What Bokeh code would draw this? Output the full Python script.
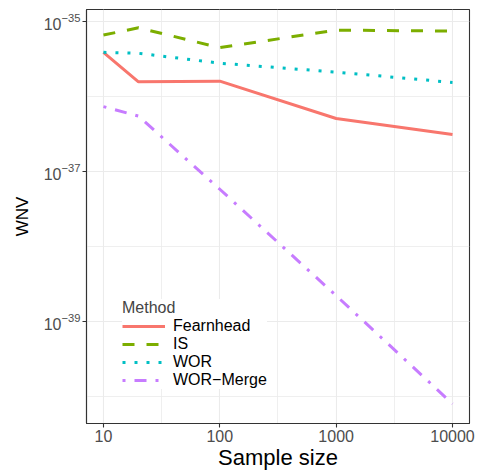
from bokeh.plotting import figure
from bokeh.models import (Range1d, FixedTicker, BasicTickFormatter, LogTickFormatter,
                          Legend, LegendItem)
from bokeh.embed import file_html
from bokeh.resources import INLINE

# ---- data ----
sample_size = [10, 20, 100, 1000, 10000]
methods = ["Fearnhead", "IS", "WOR", "WOR\u2212Merge"]
wnv_fearnhead = [3.85e-36, 1.56e-36, 1.59e-36, 5.06e-37, 3.1e-37]
wnv_is = [6.53e-36, 8.15e-36, 4.44e-36, 7.6e-36, 7.38e-36]
wnv_wor = [3.85e-36, 3.74e-36, 2.76e-36, 2.1e-36, 1.53e-36]
wnv_wor_merge = [7.3e-37, 5.45e-37, 5.8e-38, 2.23e-39, 8.1e-41]

x_ticks = [10, 100, 1000, 10000]
x_minor = [31.62, 316.2, 3162.3]
y_ticks = [1e-35, 1e-37, 1e-39]
y_minor = [1e-36, 1e-38, 1e-40]

colors = ["#F8766D", "#7CAE00", "#00BFC4", "#C77CFF"]
dashes = ["solid", "12 12", "3 9", "3 9 12 9"]
series = [wnv_fearnhead, wnv_is, wnv_wor, wnv_wor_merge]

FONT = "Liberation Sans"

p = figure(width=482, height=472, x_axis_type="log", y_axis_type="log",
           x_range=Range1d(7.15, 13996), y_range=Range1d(10**-40.353, 10**-34.845),
           output_backend="svg", toolbar_location=None,
           min_border_left=86, min_border_right=13, min_border_top=9, min_border_bottom=46)

p.background_fill_color = "white"
p.border_fill_color = "white"
p.outline_line_color = "#333333"
p.outline_line_width = 1.1

renderers = []
for vals, c, d in zip(series, colors, dashes):
    r = p.line(sample_size, vals, line_color=c, line_width=3, line_dash=d, line_cap="butt")
    renderers.append(r)

# axes
p.xaxis.ticker = FixedTicker(ticks=x_ticks, minor_ticks=x_minor)
p.yaxis.ticker = FixedTicker(ticks=y_ticks, minor_ticks=y_minor)
p.xaxis.formatter = BasicTickFormatter()
p.yaxis.formatter = LogTickFormatter()

for ax in (p.xaxis, p.yaxis):
    ax.axis_line_color = "#333333"
    ax.axis_line_width = 1.1
    ax.major_tick_line_color = "#333333"
    ax.major_tick_line_width = 1.1
    ax.major_tick_out = 4
    ax.major_tick_in = 0
    ax.minor_tick_line_color = None
    ax.major_label_text_font = FONT
    ax.major_label_text_font_size = "16px"
    ax.major_label_text_color = "#4D4D4D"
    ax.axis_label_text_font = FONT
    ax.axis_label_text_font_style = "normal"
    ax.axis_label_text_color = "black"

p.xaxis.axis_label = "Sample size"
p.xaxis.axis_label_text_font_size = "22px"
p.xaxis.major_label_standoff = 2
p.xaxis.axis_label_standoff = 0

p.yaxis.axis_label = "WNV"
p.yaxis.axis_label_text_font_size = "17px"
p.yaxis.major_label_standoff = 2
p.yaxis.axis_label_standoff = 9

for g in (p.xgrid, p.ygrid):
    g.grid_line_color = "#EBEBEB"
    g.grid_line_width = 1.1
    g.minor_grid_line_color = "#EBEBEB"
    g.minor_grid_line_width = 0.8

legend = Legend(items=[LegendItem(label=m, renderers=[r]) for m, r in zip(methods, renderers)],
                location=(36, 34), title="Method",
                title_text_font=FONT, title_text_font_size="16px", title_text_font_style="normal",
                title_standoff=0,
                label_text_font=FONT, label_text_font_size="16px", label_text_color="black",
                glyph_width=43, glyph_height=16, label_height=16, label_standoff=8,
                spacing=0, padding=5, margin=0,
                background_fill_color="white", background_fill_alpha=1.0,
                border_line_color=None)
p.add_layout(legend, "center")

open("out.html", "w").write(file_html(p, INLINE))
